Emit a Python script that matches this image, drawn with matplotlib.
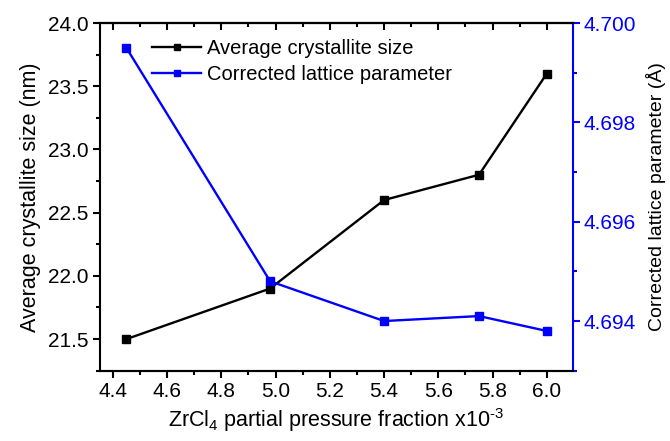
import matplotlib
matplotlib.use('Agg')
import matplotlib.pyplot as plt
from matplotlib.ticker import MultipleLocator

plt.rcParams['font.family'] = ['Liberation Sans', 'DejaVu Sans']
plt.rcParams['mathtext.fontset'] = 'custom'
plt.rcParams['mathtext.rm'] = 'Liberation Sans'
plt.rcParams['mathtext.it'] = 'Liberation Sans'

# ZrCl4 partial pressure fraction (x10^-3)
pressure = [4.45, 4.98, 5.40, 5.75, 6.00]
crystallite_size = [21.5, 21.9, 22.6, 22.8, 23.6]       # nm
lattice_param = [4.6995, 4.6948, 4.6940, 4.6941, 4.6938]  # angstrom

fig = plt.figure(figsize=(6.7, 4.41), dpi=100)
ax = fig.add_axes([0.149, 0.1594, 0.706, 0.7884])
ax2 = ax.twinx()

l1, = ax.plot(pressure, crystallite_size, color='black', lw=1.7,
              marker='s', markersize=5.5, label='Average crystallite size')
l2, = ax2.plot(pressure, lattice_param, color='#0000ff', lw=1.7,
               marker='s', markersize=5.5, label='Corrected lattice parameter')

ax.set_xlim(4.352, 6.096)
ax.set_ylim(21.25, 24.0)
ax2.set_ylim(4.693, 4.700)

ax.xaxis.set_major_locator(MultipleLocator(0.2))
ax.xaxis.set_minor_locator(MultipleLocator(0.1))
ax.yaxis.set_major_locator(MultipleLocator(0.5))
ax.yaxis.set_minor_locator(MultipleLocator(0.25))
ax2.yaxis.set_major_locator(MultipleLocator(0.002))
ax2.yaxis.set_minor_locator(MultipleLocator(0.001))
ax2.yaxis.set_major_formatter(plt.FormatStrFormatter('%.3f'))

fs = 15
ax.tick_params(axis='both', which='major', direction='out', length=5, width=1.5,
               labelsize=fs, pad=3)
ax.tick_params(axis='both', which='minor', direction='out', length=3, width=1.5)
ax.tick_params(axis='y', which='both', right=False)
ax2.tick_params(axis='y', which='major', direction='out', length=5, width=1.5,
                labelsize=fs, colors='#0000ff', pad=3)
ax2.tick_params(axis='y', which='minor', direction='out', length=3, width=1.5,
                colors='#0000ff')

# inward ticks along the top edge
top = ax.secondary_xaxis('top')
top.xaxis.set_major_locator(MultipleLocator(0.2))
top.xaxis.set_minor_locator(MultipleLocator(0.1))
top.tick_params(which='major', direction='in', length=5, width=1.5, labeltop=False)
top.tick_params(which='minor', direction='in', length=3, width=1.5)
top.spines['top'].set_linewidth(1.5)

for s in ['left', 'bottom', 'top']:
    ax.spines[s].set_linewidth(1.5)
    ax2.spines[s].set_linewidth(1.5)
ax2.spines['right'].set_linewidth(1.5)
ax2.spines['right'].set_color('#0000ff')
ax2.spines['left'].set_visible(False)
ax.spines['right'].set_visible(False)

ax.set_xlabel(r'ZrCl$_4$ partial pressure fraction x10$^{\text{-}3}$', fontsize=15.5, labelpad=4)
ax.set_ylabel('Average crystallite size (nm)', fontsize=15.5, labelpad=5)
ax2.set_ylabel('Corrected lattice parameter (\u00c5)', fontsize=14, labelpad=7)

ax.legend(handles=[l1, l2], loc='upper left', bbox_to_anchor=(0.077, 1.0),
          frameon=False, fontsize=14.5, handlelength=2.4, handletextpad=0.3,
          labelspacing=0.35, borderaxespad=0.4, markerscale=0.75)

fig.savefig('out.png', dpi=100)
